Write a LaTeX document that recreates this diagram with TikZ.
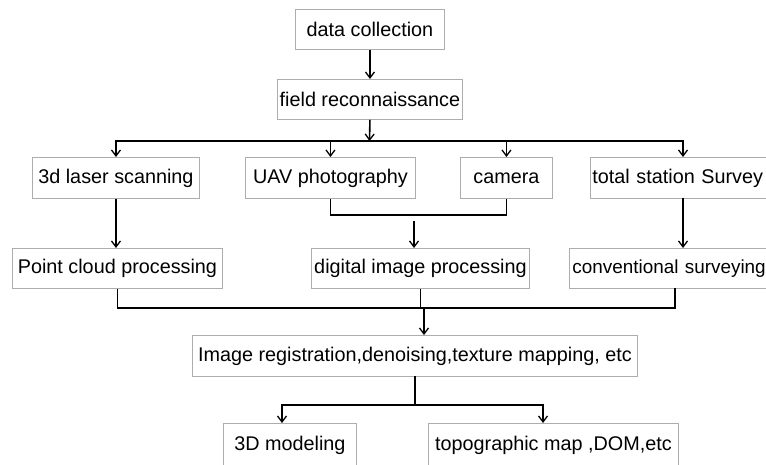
\documentclass[tikz,border=0pt]{standalone}
\usepackage{fontspec}
\setmainfont{Liberation Sans}
\usetikzlibrary{arrows.meta}
\begin{document}
\begin{tikzpicture}[x=1pt,y=-1pt,
  box/.style={draw=black!32, line width=0.9pt, inner sep=0pt, anchor=north west,
    font=\fontsize{19.8}{22}\selectfont},
  leftbox/.style={box, align=left, inner xsep=#1},
  link/.style={line width=1.6pt, black},
  arr/.style={link, -{Straight Barb[length=6pt,width=9pt,line width=1.3pt]}}
]
\clip (0,0) rectangle (766,464);
\fill[white] (0,0) rectangle (766,464);

% boxes
\node[box, minimum width=149pt, minimum height=40pt] (dc)  at (295,9)   {data collection};
\node[box, minimum width=185pt, minimum height=40pt] (fr)  at (277,79)  {field reconnaissance};
\node[box, minimum width=167pt, minimum height=41pt] (las) at (32,157)  {3d laser scanning};
\node[box, minimum width=170pt, minimum height=41pt] (uav) at (245,157) {UAV photography};
\node[box, minimum width=92pt,  minimum height=41pt] (cam) at (460,157) {camera};
\node[leftbox=2pt, text width=196pt, minimum height=41pt] (ts) at (590,157) {total station Survey};
\node[box, minimum width=210pt, minimum height=40pt] (pc)  at (12,248)  {Point cloud processing};
\node[box, minimum width=218pt, minimum height=40pt] (dip) at (311,248) {digital image processing};
\node[leftbox=3pt, text width=212pt, minimum height=40pt, font=\fontsize{18.9}{22}\selectfont] (cs) at (569,248) {conventional surveying};
\node[box, minimum width=445pt, minimum height=41pt] (ir)  at (192,335) {Image registration,denoising,texture mapping, etc};
\node[box, minimum width=133pt, minimum height=43pt] (m3)  at (223,423) {3D modeling};
\node[box, minimum width=250pt, minimum height=43pt] (topo) at (428,423) {topographic map ,DOM,etc};

% junction points
\coordinate (bus1)  at (369.5,141);
\coordinate (tsin)  at (683,157);
\coordinate (tsout) at (683,198);
\coordinate (j1)    at (414,215);
\coordinate (j1s)   at (414,221);
\coordinate (cso)   at (675,288);
\coordinate (bus2)  at (424,308);
\coordinate (iro)   at (415,376);
\coordinate (bus3)  at (415,405);
\coordinate (m3in)  at (282,423);
\coordinate (topin) at (543,423);

% connectors
\draw[arr] (dc.south) -- (fr.north);
\draw[arr] (fr.south) -- (bus1);
\draw[arr] (bus1) -| (las.north);
\draw[arr] (bus1) -| (uav.north);
\draw[arr] (bus1) -| (cam.north);
\draw[arr] (bus1) -| (tsin);

\draw[arr] (las.south) -- (las.south |- pc.north);
\draw[link] (uav.south) |- (j1) -| (cam.south);
\draw[arr] (j1s) -- (j1s |- dip.north);
\draw[arr] (tsout) -- (tsout |- cs.north);

\draw[link] (pc.south) |- (bus2);
\draw[link] (dip.south) -- (dip.south |- bus2);
\draw[link] (cso) |- (bus2);
\draw[arr] (bus2) -- (bus2 |- ir.north);

\draw[link] (iro) -- (bus3);
\draw[arr] (bus3) -| (m3in);
\draw[arr] (bus3) -| (topin);
\end{tikzpicture}
\end{document}
